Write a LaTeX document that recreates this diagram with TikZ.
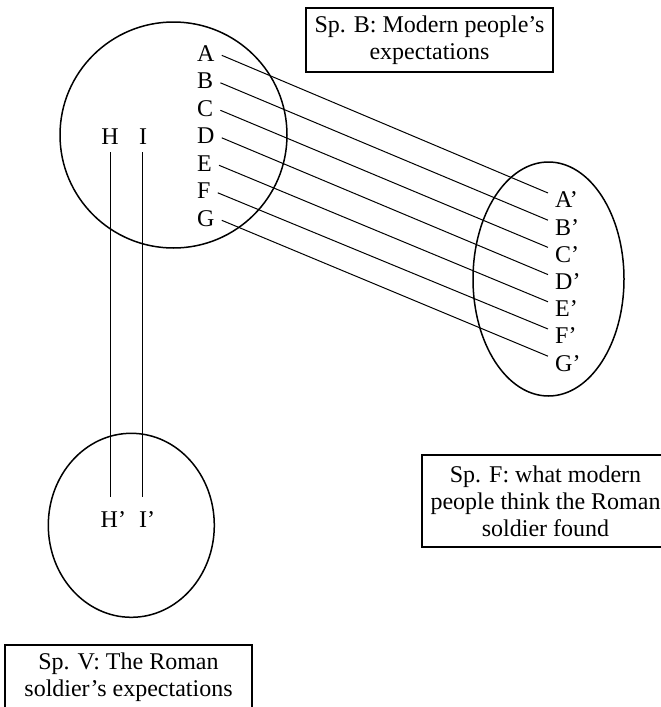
\documentclass[tikz,border=0pt]{standalone}
\usepackage{fontspec}
\setmainfont{Liberation Serif}
\usetikzlibrary{shapes.geometric,calc}
\begin{document}
\begin{tikzpicture}[x=1pt,y=-1pt,
  lbl/.style={inner sep=0pt,font=\fontsize{24}{26.8}\selectfont},
  lab/.style={lbl,anchor=west},
  spacebox/.style={draw,line width=1.5pt,ellipse,inner sep=0pt},
  capbox/.style={draw,line width=1.4pt,inner sep=0pt,minimum width=247pt,align=center,font=\fontsize{24}{26.8}\selectfont},
  link/.style={line width=1pt}]
\useasboundingbox (0,0) rectangle (661,707);
\clip (0,0) rectangle (661,707);
\fill[white] (0,0) rectangle (661,707);
% spaces
\node[spacebox,minimum width=227pt,minimum height=226pt] (sB) at (173.5,135) {};
\node[spacebox,minimum width=151pt,minimum height=234pt] (sF) at (548.5,279) {};
\node[spacebox,minimum width=166pt,minimum height=184pt] (sV) at (131.3,525.3) {};
% caption boxes
\node[capbox,minimum height=64pt] (cB) at (429.5,40) {Sp. B: Modern people’s\\expectations};
\node[capbox,minimum height=92pt] (cF) at (545.5,501) {Sp. F: what modern\\people think the Roman\\soldier found};
\node[capbox,minimum height=64pt] (cV) at (128.5,677) {Sp. V: The Roman\\soldier’s expectations};
% letters in B
\node[lab] (A) at (197,53.3) {A};
\node[lab] (B) at (197,80.8) {B};
\node[lab] (C) at (197,108.3) {C};
\node[lab] (D) at (197,135.8) {D};
\node[lab] (E) at (197,163.3) {E};
\node[lab] (F) at (197,190.8) {F};
\node[lab] (G) at (197,218.3) {G};
% letters in F
\node[lab] (Ap) at (555,200) {A’};
\node[lab] (Bp) at (555,227.2) {B’};
\node[lab] (Cp) at (555,254.4) {C’};
\node[lab] (Dp) at (555,281.6) {D’};
\node[lab] (Ep) at (555,308.8) {E’};
\node[lab] (Fp) at (555,336) {F’};
\node[lab] (Gp) at (555,363.2) {G’};
% H, I
\node[lbl] (H) at (110,137) {H};
\node[lbl] (I) at (143,137) {I};
\node[lab] (Hp) at (100.5,520) {H’};
\node[lab] (Ip) at (139,520) {I’};
% connectors B -> F
\foreach \s/\t in {A/Ap,B/Bp,C/Cp,D/Dp,E/Ep,F/Fp,G/Gp}{
  \draw[link] ($(\s.east)+(7,2)$) -- ($(\t.west)+(-7,-7)$);
}
% connectors B -> V
\draw[link] ($(H.south)+(0,7)$) -- ($(H.south |- Hp.north)+(0,-15)$);
\draw[link] ($(I.south)+(-1,7)$) -- ($(I.south |- Ip.north)+(-1,-15)$);
\end{tikzpicture}
\end{document}
